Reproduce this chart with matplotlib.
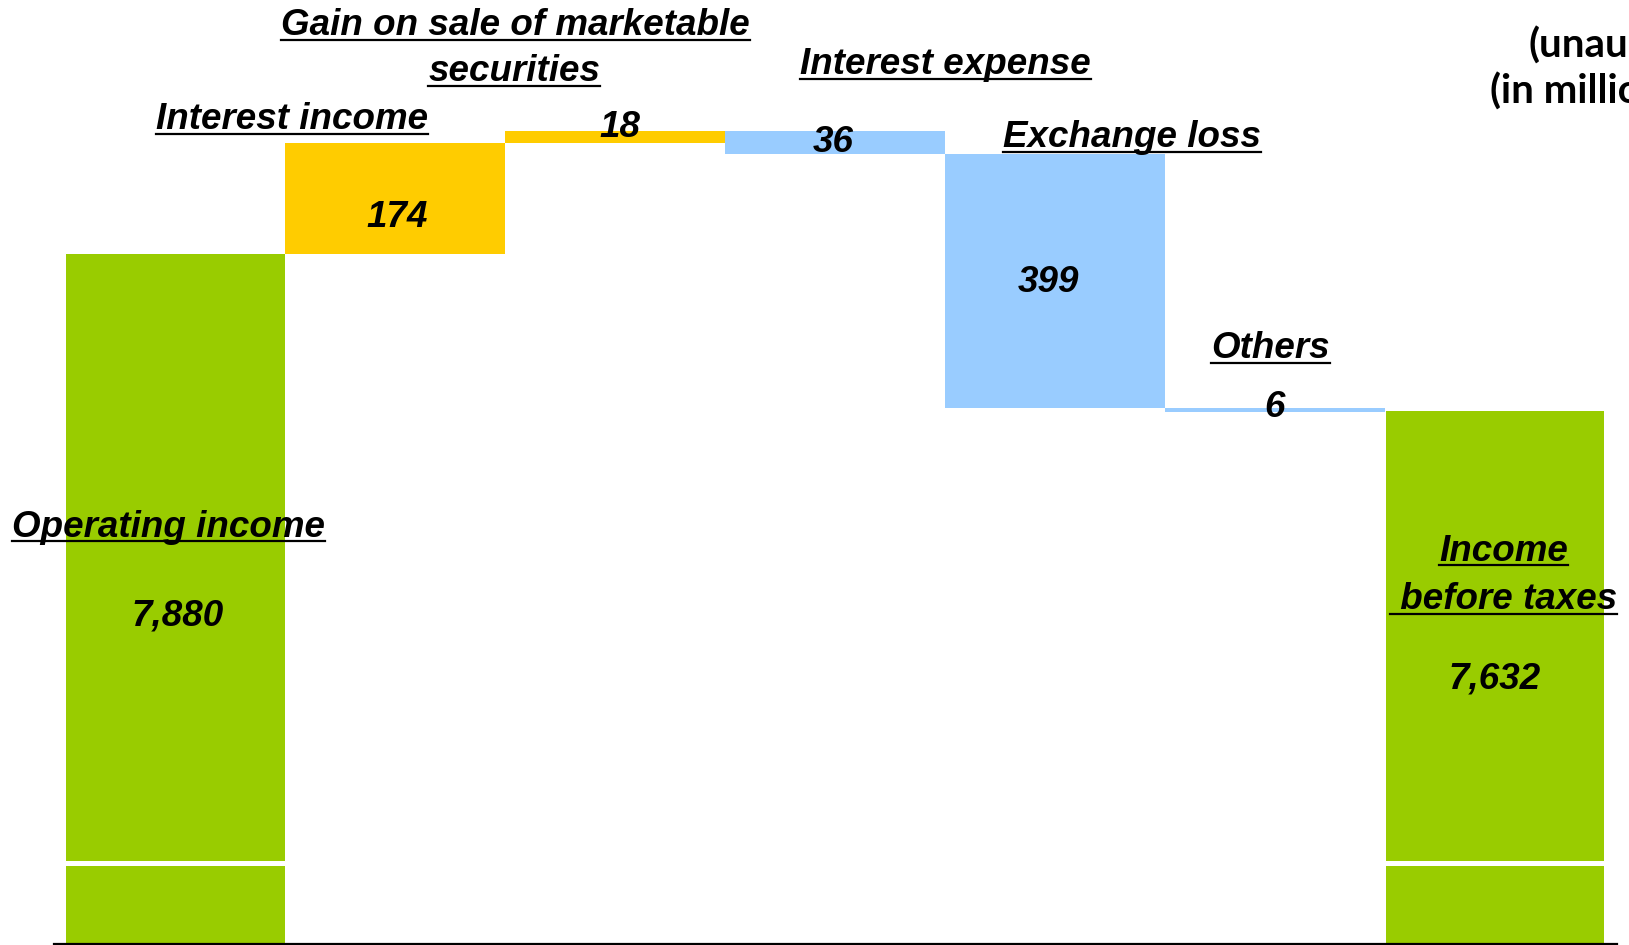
import matplotlib.pyplot as plt
import numpy as np
from matplotlib.lines import Line2D
from matplotlib.transforms import IdentityTransform

# data (millions of yen)
categories = ["Operating income", "Interest income", "Gain on sale of marketable securities",
              "Interest expense", "Exchange loss", "Others", "Income before taxes"]
operating_income = 7880
changes = [174, 18, -36, -399, -6]
income_before_taxes = 7632
value_labels = ["7,880", "174", "18", "36", "399", "6", "7,632"]

GREEN = "#99CC00"
YELLOW = "#FFCC00"
BLUE = "#99CCFF"
FONT = "Liberation Sans"


def main():
    fig = plt.figure(figsize=(16.29, 9.452), dpi=100)
    ax = fig.add_axes([0.0331, 0.0889, 0.9595, 0.9111])      # upper part of broken axis
    axb = fig.add_axes([0.0331, 0.0011, 0.9595, 0.0825])     # lower part

    x = np.arange(len(categories))
    steps = np.array(changes)
    bottoms = operating_income + np.concatenate([[0], np.cumsum(steps)[:-1]])
    colors = [YELLOW if c > 0 else BLUE for c in changes]

    for a in (ax, axb):
        a.bar(x[0], operating_income, width=1.0, color=GREEN, linewidth=0)
        a.bar(x[-1], income_before_taxes, width=0.99, color=GREEN, linewidth=0)
    ax.bar(x[1:-1], steps, bottom=bottoms, width=1.0, color=colors, linewidth=0)

    ax.set_xlim(-0.553, 6.555)
    axb.set_xlim(-0.553, 6.555)
    ax.set_ylim(6925, 8279)
    axb.set_ylim(0, 124)
    for a in (ax, axb):
        a.set_xticks([])
        a.set_yticks([])
        for s in a.spines.values():
            s.set_visible(False)
    axb.spines["bottom"].set_visible(True)
    axb.spines["bottom"].set_linewidth(1.6)

    tr = ax.get_xaxis_transform()
    kw = dict(fontsize=26.5, fontweight="bold", fontstyle="italic", family=FONT,
              ha="center", va="center", transform=tr)

    # category titles (underlined)
    titles = [
        ("Operating income", -0.03, 0.388),
        ("Interest income", 0.53, 0.861),
        ("Gain on sale of marketable", 1.545, 0.970),
        ("securities", 1.54, 0.917),
        ("Interest expense", 3.50, 0.925),
        ("Exchange loss", 4.35, 0.840),
        ("Others", 4.98, 0.595),
        ("Income", 6.04, 0.360),
        (" before taxes", 6.04, 0.304),
    ]
    title_texts = [ax.text(tx, ty, s, **kw) for s, tx, ty in titles]

    # values
    val_pos = [(0.01, 0.285), (1.01, 0.747), (2.02, 0.852), (2.99, 0.835),
               (3.97, 0.672), (5.0, 0.527), (6.0, 0.212)]
    for s, (vx, vy) in zip(value_labels, val_pos):
        ax.text(vx, vy, s, **kw)

    # units note, runs off the right edge as in the original slide
    fig.text(1528 / 1629, 1 - 46 / 945, "(unaudited)", fontsize=29, fontweight="bold",
             family="Lato", ha="left", va="center")
    fig.text(1490 / 1629, 1 - 91 / 945, "(in millions of yen)", fontsize=29, fontweight="bold",
             family="Lato", ha="left", va="center")

    fig.canvas.draw()
    r = fig.canvas.get_renderer()
    for t in title_texts:
        bb = t.get_window_extent(r)
        y = bb.y0 + 3
        fig.add_artist(Line2D([bb.x0, bb.x1], [y, y], transform=IdentityTransform(),
                              color="black", lw=1.6))

    fig.savefig("out.png", dpi=100)


main()
